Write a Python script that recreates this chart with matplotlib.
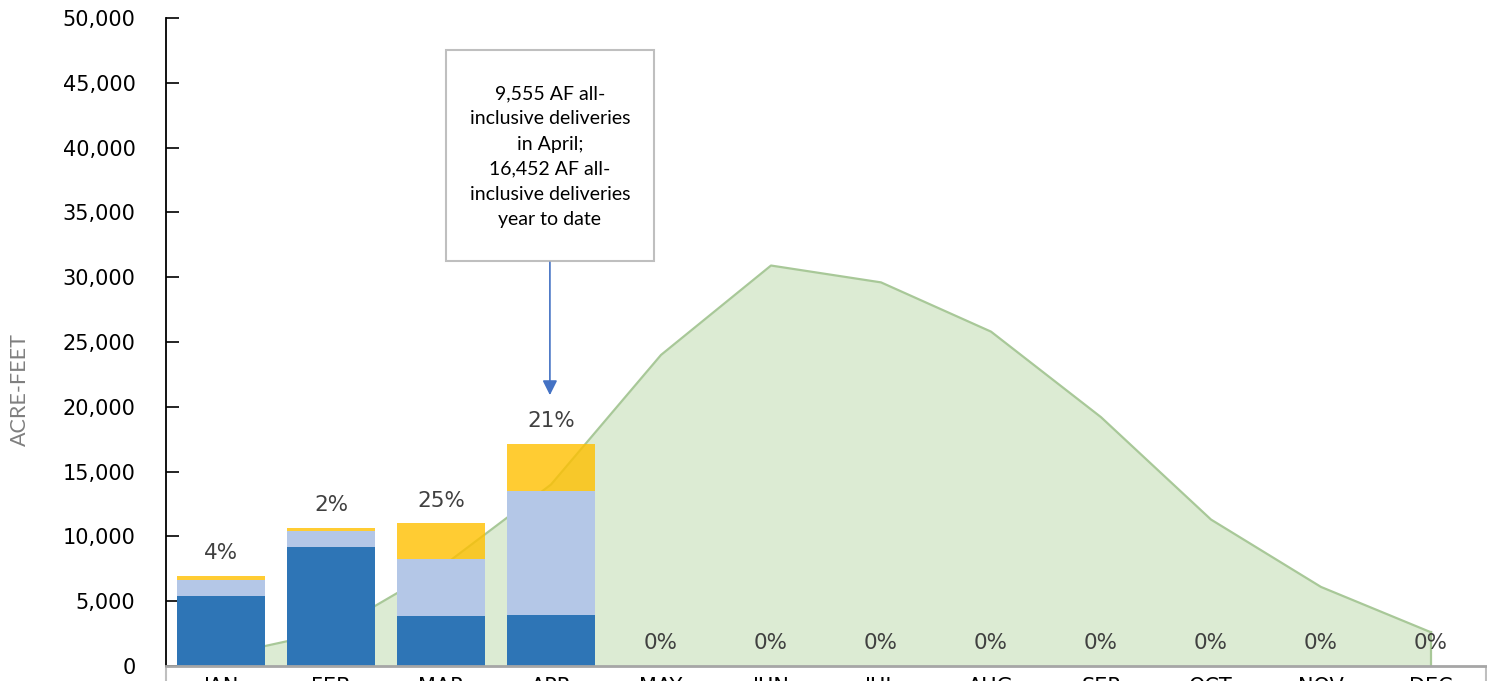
import numpy as np
import matplotlib
matplotlib.use("Agg")
from matplotlib import pyplot as plt
from matplotlib.patches import Rectangle

months = ['JAN', 'FEB', 'MAR', 'APR', 'MAY', 'JUN', 'JUL', 'AUG', 'SEP', 'OCT', 'NOV', 'DEC']
dark_vals = [5400, 9200, 3850, 3950, 0, 0, 0, 0, 0, 0, 0, 0]
light_vals = [1250, 1230, 4400, 9550, 0, 0, 0, 0, 0, 0, 0, 0]
yellow_vals = [280, 220, 2750, 3600, 0, 0, 0, 0, 0, 0, 0, 0]
pct_labels = ['4%', '2%', '25%', '21%', '0%', '0%', '0%', '0%', '0%', '0%', '0%', '0%']
area_vals = [800, 2650, 7600, 14000, 24000, 30900, 29600, 25800, 19200, 11300, 6100, 2600]
note_text = ("9,555 AF all-\ninclusive deliveries\nin April;\n"
             "16,452 AF all-\ninclusive deliveries\nyear to date")

fig = plt.figure(figsize=(14.87, 6.81), dpi=100)
ax = fig.add_axes([166 / 1487, 15 / 681, 1320 / 1487, 648 / 681])

x = np.arange(len(months))
dark = np.array(dark_vals)
light = np.array(light_vals)
yellow = np.array(yellow_vals)

# green area behind bars
ax.fill_between(x, area_vals, 0, color='#DCEBD3', zorder=1, linewidth=0)
ax.plot(x, area_vals, color='#A8C898', linewidth=1.6, zorder=1.5)
ax.plot([x[-1], x[-1]], [0, area_vals[-1]], color='#A8C898', linewidth=1.6, zorder=1.5)

w = 0.8
ax.bar(x, dark, w, color='#2E75B6', zorder=2)
ax.bar(x, light, w, bottom=dark, color='#B4C7E7', zorder=2)
ax.bar(x, yellow, w, bottom=dark + light, color='#FFC000', alpha=0.8, zorder=2)

tops = dark + light + yellow
for i in range(len(months)):
    ax.annotate(pct_labels[i], (x[i], tops[i]), xytext=(0, 16.5), textcoords='offset points',
                ha='center', va='center', fontsize=15.5, color='#404040', family='DejaVu Sans')

# callout box with arrow
ax.add_patch(Rectangle((2.045, 31250), 1.89, 16250, facecolor='white',
                       edgecolor='#BFBFBF', linewidth=1.5, zorder=4))
ax.text(2.99, 39300, note_text, ha='center', va='center', fontsize=14,
        family='Lato', linespacing=1.58, zorder=5)
ax.annotate('', xy=(2.99, 20900), xytext=(2.99, 31150),
            arrowprops=dict(arrowstyle='-|>', color='#4472C4', lw=1.2,
                            mutation_scale=22, shrinkA=0, shrinkB=0), zorder=5)

ax.set_xlim(-0.5, 11.5)
ax.set_ylim(0, 50000)
ax.set_yticks(np.arange(0, 50001, 5000))
ax.set_yticklabels(['{:,}'.format(v) for v in range(0, 50001, 5000)])
ax.tick_params(axis='y', direction='in', length=9, width=1.2, pad=22,
               labelsize=15, colors='black')
ax.set_xticks(x)
ax.set_xticklabels(months)
ax.tick_params(axis='x', length=0, pad=8, labelsize=15)
ax.set_xticks([-0.5, 11.5], minor=True)
ax.tick_params(axis='x', which='minor', direction='out', length=12, width=1.5, color='#BFBFBF')

for s in ['top', 'right']:
    ax.spines[s].set_visible(False)
ax.spines['left'].set_color('black')
ax.spines['left'].set_linewidth(1.3)
ax.spines['bottom'].set_color('#A6A6A6')
ax.spines['bottom'].set_linewidth(2)
ax.spines['bottom'].set_zorder(3)

ax.set_ylabel('ACRE-FEET', fontsize=15.5, color='#7F7F7F', family='Lato')
ax.yaxis.set_label_coords(-0.103, 0.426)

fig.savefig('out.png', dpi=100)
